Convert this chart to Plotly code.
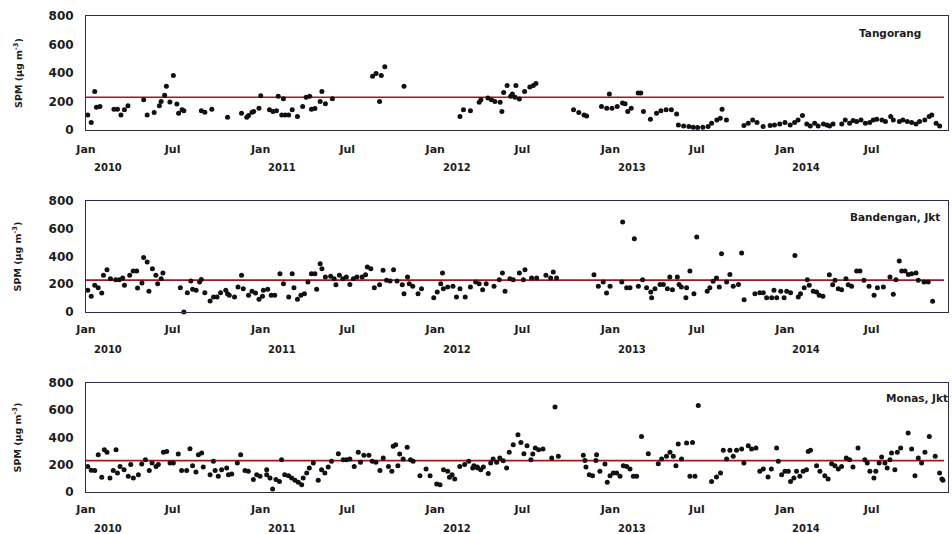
import pandas as pd
import plotly.graph_objects as go

# ---------------- data (x = years elapsed since 1 Jan 2010, y = SPM in µg m-3) ----------------
tang_t = [0.01,0.03,0.05,0.06,0.08,0.16,0.18,0.20,0.22,0.24,0.33,0.35,0.39,0.42,0.43,0.45,0.46,0.48,0.50,0.52,
          0.53,0.55,0.56,0.66,0.68,0.72,0.81,0.89,0.92,0.93,0.95,0.96,0.99,1.00,1.05,1.07,1.09,1.10,1.12,1.13,
          1.14,1.16,1.18,1.21,1.24,1.26,1.28,1.29,1.31,1.34,1.35,1.37,1.41,1.64,1.66,1.68,1.69,1.71,1.82,2.14,
          2.16,2.20,2.25,2.26,2.30,2.32,2.34,2.37,2.38,2.39,2.41,2.43,2.44,2.455,2.46,2.48,2.51,2.54,2.56,2.575,
          2.79,2.82,2.85,2.865,2.95,2.98,2.995,3.01,3.04,3.07,3.085,3.10,3.12,3.16,3.175,3.19,3.23,3.265,3.29,3.32,
          3.35,3.38,3.39,3.42,3.45,3.475,3.50,3.53,3.56,3.58,3.61,3.63,3.64,3.665,3.765,3.79,3.815,3.84,3.875,3.915,
          3.94,3.97,4.00,4.03,4.055,4.075,4.10,4.125,4.145,4.17,4.19,4.22,4.24,4.255,4.275,4.325,4.345,4.37,4.39,4.41,
          4.435,4.46,4.485,4.505,4.525,4.555,4.575,4.605,4.62,4.655,4.675,4.70,4.725,4.75,4.77,4.80,4.825,4.84,4.865,4.885]
tang_v = [106,52,271,160,165,146,146,106,142,170,212,106,123,170,200,243,307,196,382,182,
          118,142,135,135,125,146,90,118,90,101,125,130,153,241,142,130,135,236,106,219,
          106,106,142,94,165,229,236,146,151,200,271,184,219,378,397,200,382,444,307,94,
          142,135,194,212,224,212,200,194,130,264,312,236,252,229,312,217,271,302,312,326,
          142,123,106,99,165,153,252,153,165,189,184,130,153,260,260,130,76,118,135,142,
          142,113,35,28,24,19,17,19,24,47,71,83,146,71,31,47,71,52,24,31,
          35,42,52,35,52,71,101,42,28,47,28,42,35,28,42,42,71,47,66,59,
          71,47,52,71,76,71,59,94,71,59,71,59,52,42,59,71,94,106,47,28]

band_t = [0.01,0.03,0.05,0.07,0.09,0.10,0.12,0.14,0.17,0.19,0.21,0.22,0.25,0.27,0.29,0.295,0.32,0.33,0.35,0.36,
          0.38,0.40,0.41,0.43,0.44,0.54,0.56,0.58,0.60,0.61,0.63,0.65,0.66,0.68,0.71,0.73,0.75,0.77,0.80,0.81,
          0.82,0.85,0.87,0.89,0.90,0.93,0.95,0.97,0.99,1.01,1.015,1.04,1.06,1.08,1.11,1.13,1.16,1.18,1.19,1.21,
          1.23,1.25,1.27,1.29,1.31,1.32,1.34,1.35,1.37,1.40,1.42,1.43,1.45,1.47,1.49,1.51,1.53,1.55,1.58,1.60,
          1.61,1.63,1.65,1.68,1.70,1.72,1.74,1.76,1.78,1.81,1.82,1.84,1.85,1.87,1.90,1.92,1.99,2.01,2.03,2.04,
          2.045,2.07,2.10,2.12,2.14,2.17,2.20,2.23,2.25,2.27,2.29,2.335,2.365,2.383,2.398,2.426,2.445,2.48,2.503,2.512,
          2.55,2.579,2.632,2.659,2.674,2.693,2.907,2.932,2.96,2.979,2.999,3.066,3.071,3.094,3.113,3.138,3.161,3.185,3.208,3.232,
          3.237,3.256,3.285,3.304,3.327,3.341,3.356,3.384,3.394,3.407,3.433,3.437,3.456,3.479,3.495,3.555,3.57,3.589,3.608,3.624,
          3.637,3.666,3.685,3.704,3.734,3.752,3.766,3.828,3.856,3.876,3.895,3.924,3.937,3.953,3.976,3.995,4.01,4.032,4.057,4.076,
          4.089,4.11,4.128,4.139,4.162,4.181,4.196,4.217,4.254,4.273,4.286,4.305,4.324,4.349,4.362,4.381,4.41,4.429,4.452,4.481,
          4.51,4.529,4.563,4.601,4.62,4.635,4.654,4.668,4.687,4.706,4.725,4.75,4.763,4.796,4.82,4.845]
band_v = [156,113,192,175,137,264,305,240,233,233,245,192,264,295,295,173,209,392,360,149,
          312,264,204,240,281,175,0,139,223,163,156,216,235,139,79,108,108,139,156,132,
          120,108,180,264,168,120,149,137,91,113,156,163,120,120,276,204,108,276,175,91,
          120,132,216,276,276,163,348,312,252,257,240,197,264,240,252,199,240,252,252,269,
          324,312,175,197,300,228,223,305,223,197,132,252,204,185,132,168,103,144,204,281,
          168,180,185,108,168,108,180,216,204,161,204,185,233,281,149,240,233,281,233,305,
          245,245,264,245,288,245,269,185,216,137,185,216,648,175,175,528,185,233,175,144,
          103,168,199,199,168,252,161,252,199,180,103,175,295,132,540,149,175,221,245,180,
          420,216,271,185,199,425,89,132,139,139,103,103,156,103,149,103,149,139,408,108,
          132,175,233,192,149,144,120,113,269,197,228,168,161,240,197,185,295,295,228,185,
          120,175,180,252,127,233,367,295,295,271,276,281,228,216,216,77]

monas_t = [0.01,0.03,0.05,0.07,0.09,0.105,0.12,0.137,0.156,0.172,0.18,0.195,0.218,0.242,0.256,0.271,0.30,0.319,0.34,0.362,
           0.378,0.401,0.414,0.443,0.462,0.481,0.50,0.528,0.547,0.576,0.595,0.61,0.629,0.643,0.662,0.671,0.71,0.729,0.739,0.757,
           0.776,0.805,0.815,0.834,0.866,0.885,0.91,0.929,0.958,0.977,0.996,1.034,1.034,1.053,1.068,1.087,1.107,1.119,1.137,1.159,
           1.177,1.196,1.215,1.234,1.243,1.263,1.278,1.301,1.329,1.348,1.367,1.386,1.405,1.444,1.472,1.491,1.51,1.535,1.558,1.571,
           1.59,1.619,1.638,1.659,1.682,1.701,1.731,1.75,1.758,1.772,1.785,1.795,1.815,1.838,1.857,1.872,1.911,1.946,1.969,2.007,
           2.026,2.046,2.07,2.08,2.095,2.11,2.139,2.167,2.19,2.213,2.242,2.22,2.239,2.259,2.274,2.302,2.316,2.33,2.35,2.368,
           2.388,2.407,2.422,2.445,2.472,2.489,2.506,2.524,2.546,2.557,2.571,2.59,2.615,2.665,2.684,2.703,2.846,2.855,2.861,2.88,
           2.899,2.918,2.922,2.941,2.97,2.983,2.999,3.018,3.037,3.056,3.075,3.094,3.113,3.132,3.151,3.179,3.218,3.275,3.294,3.322,
           3.342,3.361,3.376,3.389,3.408,3.437,3.456,3.471,3.485,3.504,3.58,3.608,3.631,3.647,3.666,3.685,3.704,3.723,3.752,3.765,
           3.79,3.809,3.834,3.856,3.876,3.903,3.922,3.952,3.962,3.981,4.0,4.019,4.032,4.051,4.066,4.085,4.104,4.123,4.133,4.146,
           4.181,4.2,4.228,4.247,4.267,4.286,4.305,4.324,4.351,4.37,4.389,4.418,4.457,4.471,4.486,4.509,4.52,4.539,4.553,4.572,
           4.585,4.601,4.61,4.629,4.643,4.662,4.705,4.725,4.744,4.763,4.782,4.801,4.826,4.86,4.885,4.898,4.904]
monas_v = [188,159,157,274,108,311,291,103,157,311,139,188,164,115,201,103,127,205,237,157,
           213,188,201,291,298,213,213,279,157,157,318,193,147,274,286,183,127,225,157,115,
           164,176,127,132,213,274,157,152,91,127,115,164,127,103,22,91,78,237,127,120,
           103,86,71,54,103,139,176,213,86,164,139,183,225,281,237,237,242,188,291,218,
           269,269,225,218,157,250,188,152,335,347,193,279,242,328,237,225,120,169,120,59,
           54,164,152,108,127,95,188,201,225,176,176,193,183,164,183,135,213,242,218,250,
           230,176,291,347,421,364,281,340,237,279,323,311,316,250,624,262,269,232,183,127,
           120,232,274,152,205,71,120,139,139,115,193,188,169,115,115,408,281,208,242,262,
           291,262,193,352,242,360,115,364,115,634,78,110,139,306,242,306,262,306,316,213,
           340,316,323,152,169,110,169,323,225,127,152,152,78,103,152,115,152,164,298,306,
           193,152,120,95,208,193,169,188,250,237,183,323,237,213,152,103,152,213,257,213,
           176,237,286,164,291,323,433,316,120,250,213,291,408,262,139,95,86]

stations = ["Tangorang", "Bandengan, Jkt", "Monas, Jkt"]
limit_value = 230
x_ticks = ["Jan", "Jul"] * 5
year_labels = ["2010", "2011", "2012", "2013", "2014"]
y_ticks = [0, 200, 400, 600, 800]

# ---------------- helpers ----------------
base = pd.Timestamp("2010-01-01")
def to_date(yrs):
    return [base + pd.to_timedelta(v * 365.25, unit="D") for v in yrs]

x_start, x_end, line_end = 0.0, 4.933, 4.91

series = [(tang_t, tang_v), (band_t, band_v), (monas_t, monas_v)]
domains = [(0.7605, 1.0), (0.3782, 0.6113), (0.0, 0.229)]
tick_dates = []
for yr in range(2010, 2015):
    tick_dates += [pd.Timestamp(f"{yr}-01-01"), pd.Timestamp(f"{yr}-07-01")]

FONT = "DejaVu Sans"
TXT = "#1c1c1c"
FRAME = "#2b2f4c"

fig = go.Figure()
layout = dict(
    width=952, height=534,
    margin=dict(l=86, r=4, t=16, b=42),
    plot_bgcolor="white", paper_bgcolor="white",
    showlegend=False,
    font=dict(family=FONT, color=TXT),
)
annotations = []
for i, ((t, v), name, dom) in enumerate(zip(series, stations, domains)):
    n = "" if i == 0 else str(i + 1)
    xa, ya = "x" + n, "y" + n
    fig.add_trace(go.Scatter(
        x=to_date([x_start, line_end]), y=[limit_value, limit_value],
        mode="lines", line=dict(color="#a3161c", width=1.6),
        xaxis=xa, yaxis=ya, hoverinfo="skip"))
    fig.add_trace(go.Scatter(
        x=to_date(t), y=v, mode="markers",
        marker=dict(color="#111111", size=5),
        cliponaxis=False, xaxis=xa, yaxis=ya))
    layout["xaxis" + n] = dict(
        domain=[0, 1], anchor=ya, range=to_date([x_start, x_end]),
        tickmode="array", tickvals=tick_dates, ticktext=x_ticks,
        ticks="", ticklabelstandoff=9 if i == 0 else 7,
        tickfont=dict(family=FONT, size=11, color=TXT, weight="bold"),
        showgrid=False, zeroline=False,
        showline=True, mirror=True, linecolor=FRAME, linewidth=1)
    layout["yaxis" + n] = dict(
        domain=list(dom), anchor=xa, range=[0, 800],
        tickmode="array", tickvals=y_ticks,
        ticks="", ticklabelstandoff=9,
        tickfont=dict(family=FONT, size=12, color=TXT, weight="bold"),
        showgrid=False, zeroline=False,
        showline=True, mirror=True, linecolor=FRAME, linewidth=1)
    # year labels
    ys = [-37, -38, -36][i]
    for yl in year_labels:
        annotations.append(dict(
            x=pd.Timestamp(f"{yl}-02-15"), xref=xa, y=0, yref=ya + " domain",
            yshift=ys, yanchor="middle", xanchor="center", showarrow=False,
            text=yl, font=dict(family=FONT, size=10, color=TXT, weight="bold")))
    # station label
    sx = [0.971, 0.993, 1.002][i]
    sy = [0.851, 0.856, 0.862][i]
    annotations.append(dict(
        x=sx, xref=xa + " domain", y=sy, yref=ya + " domain",
        xanchor="right", yanchor="middle", showarrow=False,
        text=name, font=dict(family=FONT, size=10.5, color=TXT, weight="bold")))
    # y title
    annotations.append(dict(
        x=-0.079, xref="paper", y=0.5, yref=ya + " domain",
        xanchor="center", yanchor="middle", showarrow=False, textangle=-90,
        text="SPM (µg m<sup>-3</sup>)",
        font=dict(family=FONT, size=9.5, color=TXT, weight="bold")))

layout["annotations"] = annotations
fig.update_layout(**layout)
fig.write_html("out.html")
